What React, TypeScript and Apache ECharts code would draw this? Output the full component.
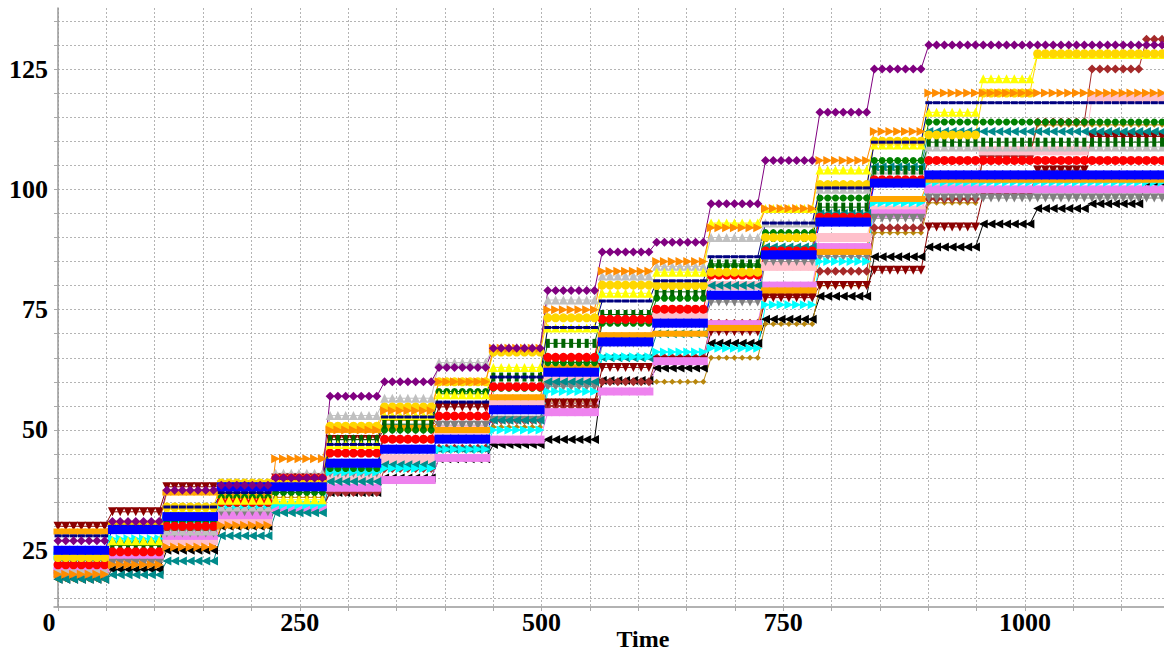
import React, { useEffect, useRef } from "react";
import * as echarts from "echarts";

// ---- time sampling (one marker per sample, level changes every 7 samples) ----
const SAMPLE_STEP = 8.04;
const SAMPLES_PER_LEVEL = 7;
const SAMPLE_COUNT = 143;
const sampleTimes: number[] = Array.from({ length: SAMPLE_COUNT }, (_, i) => +(i * SAMPLE_STEP).toFixed(2));

// ---- axis ticks ----
const xTickValues = [0, 50, 100, 150, 200, 250, 300, 350, 400, 450, 500, 550, 600, 650, 700, 750, 800, 850, 900, 950, 1000, 1050, 1100];
const xLabelValues = [0, 250, 500, 750, 1000];
const yTickValues = [15, 20, 25, 30, 35, 40, 45, 50, 55, 60, 65, 70, 75, 80, 85, 90, 95, 100, 105, 110, 115, 120, 125, 130, 135];
const yLabelValues = [25, 50, 75, 100, 125];

// ---- level of each series in each period (21 periods) ----
const blackLevels = [19, 21, 25, 30, 34, 37, 40, 44, 47, 48, 60.3, 62.9, 68, 73, 77.8, 86, 88, 92.8, 96, 97, 101.3];
const goldenrodLevels = [19, 22, 28, 30, 36, 48.5, 52, 50.5, 50.6, 56, 60, 60, 65, 72, 80, 91, 97.2, 107, 113.4, 113.4, 113.4];
const brownLevels = [19.5, 24, 27, 33.4, 33.5, 37, 42, 46.2, 52, 55, 60, 65, 72.2, 78, 83, 92, 98, 107, 114, 125, 131.2];
const darkRedLevels = [30, 33, 38.2, 38.5, 40, 48, 50, 54.8, 55, 55.6, 63, 64.5, 70.4, 77.5, 80, 83.2, 92.2, 99, 104, 111, 111];
const pinkLevels = [20.5, 23.5, 27, 31, 34, 40, 44, 50, 56, 61, 69.3, 73.5, 80, 84, 90, 95.7, 101, 108, 108, 119, 119];
const violetLevels = [20.8, 24, 28, 32.3, 34, 38, 39.6, 44.2, 48, 53.7, 58, 64.3, 72, 80, 88, 95, 100, 100, 100, 100, 100];
const grayLevels = [19.5, 22.3, 28.6, 33, 37, 41, 50, 51, 52, 59, 68, 72, 76.6, 85, 86, 94, 98.2, 98.2, 98.2, 98.2, 98.2];
const silverLevels = [21, 25, 29, 34, 41, 53, 56.6, 64, 67.2, 77, 82, 84, 90, 93, 100, 104, 108.8, 108.8, 108.8, 108.8, 108.8];
const tealLevels = [19, 19.9, 22.8, 28, 32.8, 39.3, 42.8, 46, 52, 60, 65, 70, 80, 88, 95, 104.7, 112, 112, 112, 112, 112];
const cyanLevels = [23.8, 27.4, 31.5, 34.4, 34.4, 41.2, 42, 46, 50, 58, 65.2, 66.2, 67, 76, 85, 97.2, 101.5, 101.5, 101.5, 101.5, 101.5];
const orangeRectLevels = [28.9, 30.5, 37, 36.3, 39, 50, 50.4, 50, 56.8, 63, 69.7, 70, 71.2, 79, 87, 98, 102, 102, 102, 102, 102];
const greenLevels = [23, 26.5, 31, 36, 37, 42, 50, 58, 58.7, 64, 72.2, 77.4, 84.1, 91, 98.2, 106, 114, 114, 114, 114, 114];
const darkGreenLevels = [22.5, 26, 30, 35, 38, 48, 51.2, 57.5, 61, 68, 74, 78.7, 84.5, 90, 96.3, 104, 109.8, 109.8, 109.8, 109.8, 109.8];
const redLevels = [22, 24.7, 30, 35, 40, 45.2, 48.1, 52.9, 59, 65.1, 73, 75.1, 82.2, 87.2, 94.2, 102, 106, 106, 106, 106, 106];
const yellowLevels = [24, 27, 33, 35.4, 35.5, 47, 53, 57.3, 63, 71.2, 78.4, 82.8, 93, 96, 104, 109.2, 116, 123, 128, 128, 128];
const goldLevels = [23.5, 30, 34, 39, 39, 50.8, 54.8, 60, 66.2, 73.3, 80.1, 80, 82.8, 90, 101, 110, 111.3, 120, 128.2, 128.2, 128.2];
const navyLevels = [28, 30, 34, 37, 40, 47, 52.7, 55.8, 61, 71.3, 76.8, 81, 86, 93, 100.3, 109.8, 118, 118, 118, 118, 118];
const orangeTriLevels = [20, 22, 25.7, 30.2, 44, 50, 54, 60, 67, 75, 83, 85, 92, 96, 106, 112, 120, 120, 120, 120, 120];
const blueLevels = [25, 29.3, 32, 38.2, 38.2, 43.1, 46, 48.1, 54.2, 62, 68.3, 72.2, 78, 86.4, 93.2, 101.3, 103, 103, 103, 103, 103];
const purpleLevels = [27, 31, 37.5, 38.5, 40, 57, 60, 63, 67, 79, 87, 89, 97, 106, 116, 125, 130, 130, 130, 130, 130];

type Def = { name: string; levels: number[]; color: string; symbol: string; size: number | number[]; rotate?: number };

const defs: Def[] = [
  { name: "S1", levels: blackLevels, color: "#000000", symbol: "triangle", size: 9, rotate: 90 },
  { name: "S2", levels: goldenrodLevels, color: "#B8860B", symbol: "diamond", size: 6 },
  { name: "S3", levels: brownLevels, color: "#A52A2A", symbol: "diamond", size: 9 },
  { name: "S4", levels: darkRedLevels, color: "#8B0000", symbol: "triangle", size: 9, rotate: 180 },
  { name: "S5", levels: pinkLevels, color: "#FFC0CB", symbol: "rect", size: 9 },
  { name: "S6", levels: violetLevels, color: "#EE82EE", symbol: "rect", size: [9, 8] },
  { name: "S7", levels: grayLevels, color: "#808080", symbol: "triangle", size: 9, rotate: 180 },
  { name: "S8", levels: silverLevels, color: "#C0C0C0", symbol: "triangle", size: 9 },
  { name: "S9", levels: tealLevels, color: "#008B8B", symbol: "triangle", size: 9, rotate: 90 },
  { name: "S10", levels: cyanLevels, color: "#00FFFF", symbol: "triangle", size: 9, rotate: -90 },
  { name: "S11", levels: orangeRectLevels, color: "#FFA500", symbol: "rect", size: [9, 6] },
  { name: "S12", levels: greenLevels, color: "#008000", symbol: "circle", size: 7 },
  { name: "S13", levels: darkGreenLevels, color: "#006400", symbol: "rect", size: [4, 9] },
  { name: "S14", levels: redLevels, color: "#FF0000", symbol: "circle", size: 9 },
  { name: "S15", levels: yellowLevels, color: "#FFFF00", symbol: "triangle", size: 9 },
  { name: "S16", levels: goldLevels, color: "#FFD700", symbol: "circle", size: 9 },
  { name: "S17", levels: navyLevels, color: "#000080", symbol: "rect", size: [7, 3] },
  { name: "S18", levels: orangeTriLevels, color: "#FF8C00", symbol: "triangle", size: 9, rotate: -90 },
  { name: "S19", levels: blueLevels, color: "#0000FF", symbol: "rect", size: 9 },
  { name: "S20", levels: purpleLevels, color: "#800080", symbol: "diamond", size: 9 },
];

const FONT = "'Liberation Serif', 'Times New Roman', serif";

export default function App() {
  const ref = useRef<HTMLDivElement>(null);
  useEffect(() => {
    if (!ref.current) return;
    const chart = echarts.init(ref.current, undefined, { renderer: "svg" });
    const series = defs.map((d) => ({
      name: d.name,
      type: "line",
      data: sampleTimes.map((t, i) => [t, d.levels[Math.floor(i / SAMPLES_PER_LEVEL)]]),
      symbol: d.symbol,
      symbolSize: d.size,
      symbolRotate: d.rotate || 0,
      showAllSymbol: true,
      lineStyle: { color: d.color, width: 1 },
      itemStyle: { color: d.color, borderWidth: 0 },
      emphasis: { disabled: true },
    }));
    chart.setOption({
      animation: false,
      backgroundColor: "#ffffff",
      grid: { left: 54, right: 0, top: 8, bottom: 47, containLabel: false, outerBoundsMode: "none" },
      xAxis: {
        type: "value",
        min: -4.14,
        max: 1143.7,
        name: "Time",
        nameLocation: "middle",
        nameGap: 20,
        nameMoveOverlap: false,
        nameTextStyle: { fontFamily: FONT, fontWeight: "bold", fontSize: 24, color: "#000", padding: [0, 0, 0, 68] },
        axisLine: { show: true, lineStyle: { color: "#999", width: 1.5 } },
        axisTick: { show: true, length: 4, customValues: xTickValues, lineStyle: { color: "#aaa" } },
        axisLabel: {
          customValues: xLabelValues,
          fontFamily: FONT,
          fontWeight: "bold",
          fontSize: 26,
          color: "#000",
          margin: 2,
          formatter: (v: number) => (v === 0 ? "{z|0}" : String(v)),
          rich: { z: { fontFamily: FONT, fontWeight: "bold", fontSize: 26, color: "#000", padding: [0, 18, 0, 0] } },
        },
        splitLine: { show: true, lineStyle: { color: "#b4b4b4", type: [2, 2], width: 1 } },
      },
      yAxis: {
        type: "value",
        min: 13.22,
        max: 137.68,
        axisLine: { show: true, lineStyle: { color: "#999", width: 1.5 } },
        axisTick: { show: true, length: 4, customValues: yTickValues, lineStyle: { color: "#aaa" } },
        axisLabel: {
          customValues: yLabelValues,
          fontFamily: FONT,
          fontWeight: "bold",
          fontSize: 26,
          color: "#000",
          margin: 6,
          padding: [6, 0, 0, 0],
        },
        splitLine: { show: true, lineStyle: { color: "#b4b4b4", type: [2, 2], width: 1 } },
      },
      series,
    });
    return () => chart.dispose();
  }, []);
  return <div ref={ref} style={{ position: "fixed", left: 0, top: 0, width: 1164, height: 654, background: "#fff" }} />;
}
